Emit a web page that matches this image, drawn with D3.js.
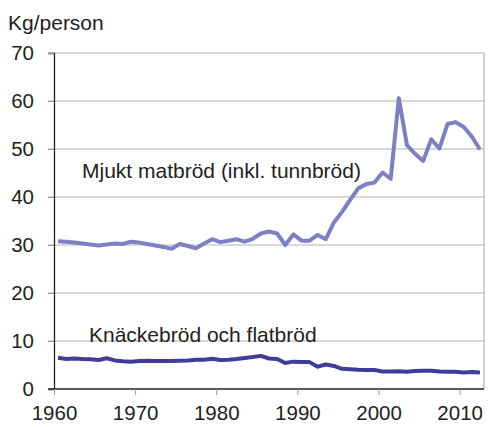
<!DOCTYPE html>
<html>
<head>
<meta charset="utf-8">
<script src="https://cdn.jsdelivr.net/npm/d3@7"></script>
<style>
	body { margin: 0; background: white; }
	svg text { font-family: "Liberation Sans", Arial, sans-serif; fill: #222; }
</style>
</head>
<body>
<svg id="chart" width="488" height="427"></svg>
<script>
// yearly values, 1960-2012
const years = d3.range(1960, 2013);
const mjukt = [
	30.8, 30.7, 30.5, 30.3, 30.1, 29.9, 30.1, 30.3, 30.2, 30.7,
	30.5, 30.2, 29.9, 29.6, 29.2, 30.2, 29.8, 29.3, 30.3, 31.2,
	30.6, 30.9, 31.2, 30.7, 31.3, 32.4, 32.8, 32.4, 30.0, 32.2,
	30.9, 30.9, 32.1, 31.2, 34.7, 36.9, 39.4, 41.8, 42.7, 43.0,
	45.1, 43.8, 60.6, 50.8, 49.0, 47.5, 52.0, 50.1, 55.2, 55.6,
	54.6, 52.6, 49.9
];
const knacke = [
	6.5, 6.25, 6.35, 6.25, 6.2, 6.05, 6.4, 5.95, 5.8, 5.7,
	5.85, 5.9, 5.85, 5.85, 5.85, 5.9, 5.95, 6.1, 6.1, 6.3,
	6.05, 6.1, 6.25, 6.45, 6.65, 6.9, 6.35, 6.25, 5.4, 5.7,
	5.65, 5.6, 4.65, 5.1, 4.8, 4.2, 4.1, 4.0, 3.95, 3.95,
	3.65, 3.65, 3.7, 3.6, 3.75, 3.8, 3.8, 3.65, 3.6, 3.6,
	3.45, 3.55, 3.45
];
const xTicks = [1960, 1970, 1980, 1990, 2000, 2010];
const yTicks = [0, 10, 20, 30, 40, 50, 60, 70];
const seriesNames = ["Mjukt matbröd (inkl. tunnbröd)", "Knäckebröd och flatbröd"];
const unitLabel = "Kg/person";

const svg = d3.select("#chart");
const plot = { left: 54, right: 484, top: 53, bottom: 389 };

const x = d3.scaleLinear().domain([1960, 2013]).range([plot.left, plot.right]);
const y = d3.scaleLinear().domain([0, 70]).range([plot.bottom, plot.top]);

// grid
svg.append("g")
	.selectAll("line")
	.data(yTicks.filter(d => d > 0))
	.join("line")
	.attr("x1", plot.left - 6)
	.attr("x2", plot.right)
	.attr("y1", d => y(d))
	.attr("y2", d => y(d))
	.attr("stroke", "#b3b3b3")
	.attr("stroke-width", 1.2);

svg.append("line")
	.attr("x1", plot.right).attr("x2", plot.right)
	.attr("y1", plot.top).attr("y2", plot.bottom)
	.attr("stroke", "#b3b3b3")
	.attr("stroke-width", 1.2);

// axes
const yAxis = svg.append("g")
	.attr("transform", `translate(${plot.left},0)`)
	.call(d3.axisLeft(y).tickValues(yTicks).tickSize(6).tickPadding(14));
const xAxis = svg.append("g")
	.attr("transform", `translate(0,${plot.bottom})`)
	.call(d3.axisBottom(x).tickValues(xTicks).tickFormat(d3.format("d")).tickSize(6).tickPadding(10));

[yAxis, xAxis].forEach(g => {
	g.select(".domain").attr("stroke", "#222").attr("stroke-width", 1.3);
	g.selectAll(".tick line").attr("stroke", "#999");
	g.selectAll(".tick text")
		.attr("font-size", 20.5)
		.attr("fill", "#222")
		.style("font-family", "Liberation Sans, Arial, sans-serif");
});
xAxis.select(".domain").attr("d", `M${plot.left - 6},0H${plot.right}`);

// lines, points sit at mid-year
const line = d3.line()
	.x((d, i) => x(years[i] + 0.5))
	.y(d => y(d));

svg.append("path")
	.datum(mjukt)
	.attr("d", line)
	.attr("fill", "none")
	.attr("stroke", "#7d80c2")
	.attr("stroke-width", 4)
	.attr("stroke-linejoin", "round");

svg.append("path")
	.datum(knacke)
	.attr("d", line)
	.attr("fill", "none")
	.attr("stroke", "#3e3e9a")
	.attr("stroke-width", 4)
	.attr("stroke-linejoin", "round");

// labels
svg.append("text")
	.attr("x", 8).attr("y", 30)
	.attr("font-size", 21)
	.text(unitLabel);

svg.append("text")
	.attr("x", 82).attr("y", 178)
	.attr("font-size", 21)
	.text(seriesNames[0]);

svg.append("text")
	.attr("x", 89).attr("y", 342)
	.attr("font-size", 21)
	.text(seriesNames[1]);
</script>
</body>
</html>
